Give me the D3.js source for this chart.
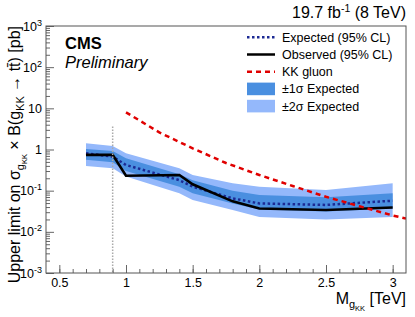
<!DOCTYPE html>
<html>
<head>
<meta charset="utf-8">
<script src="https://cdn.jsdelivr.net/npm/d3@7"></script>
<style>
  body { margin: 0; background: #fff; }
  svg { font-family: "Liberation Sans", Arial, sans-serif; }
</style>
</head>
<body>
<svg width="415" height="317"></svg>
<script>
// limits, pb
const mass = [0.7, 0.9, 1.0, 1.4, 1.5, 1.8, 2.0, 2.5, 3.0];
const observed = [0.74, 0.74, 0.23, 0.24, 0.143, 0.055, 0.037, 0.034, 0.039];
const expected = [0.81, 0.67, 0.42, 0.18, 0.125, 0.065, 0.049, 0.045, 0.057];
const sig1Lo = [0.56, 0.49, 0.30, 0.125, 0.086, 0.049, 0.035, 0.031, 0.037];
const sig1Hi = [1.03, 0.92, 0.61, 0.25, 0.18, 0.10, 0.079, 0.069, 0.086];
const sig2Lo = [0.40, 0.35, 0.22, 0.086, 0.059, 0.034, 0.023, 0.020, 0.023];
const sig2Hi = [1.42, 1.22, 0.81, 0.35, 0.24, 0.151, 0.125, 0.104, 0.151];

// KK gluon theory curve
const kkMass = [1.0, 1.25, 1.5, 1.75, 2.0, 2.25, 2.5, 2.75, 3.0, 3.1];
const kkXsec = [8.0, 2.6, 1.07, 0.47, 0.24, 0.13, 0.071, 0.042, 0.025, 0.021];

// dotted vertical marker
const markMass = 0.9;
const markTop = 3.6;

const xTicks = [0.5, 1, 1.5, 2, 2.5, 3];
const yDecades = [-3, -2, -1, 0, 1, 2, 3];

const legendItems = [
  { label: "Expected (95% CL)", kind: "exp" },
  { label: "Observed (95% CL)", kind: "obs" },
  { label: "KK gluon", kind: "kk" },
  { label: "±1σ Expected", kind: "s1" },
  { label: "±2σ Expected", kind: "s2" }
];

const svg = d3.select("svg");
const pLeft = 46, pRight = 406, pTop = 26, pBottom = 273;

const c2 = "#94b8fb", c1 = "#4a8fe0", cExp = "#1c2a94", cKK = "#e00000";

const x = d3.scaleLinear().domain([0.4, 3.1]).range([pLeft, pRight]);
const y = d3.scaleLog().domain([1e-3, 1e3]).range([pBottom, pTop]);

const plot = svg.append("g");
plot.append("clipPath").attr("id", "clip")
  .append("rect").attr("x", pLeft).attr("y", pTop)
  .attr("width", pRight - pLeft).attr("height", pBottom - pTop);
const g = plot.append("g").attr("clip-path", "url(#clip)");

const band = (lo, hi) => d3.area()
  .x((d, i) => x(mass[i]))
  .y0((d, i) => y(lo[i]))
  .y1((d, i) => y(hi[i]));

g.append("path").datum(mass).attr("d", band(sig2Lo, sig2Hi)).attr("fill", c2);
g.append("path").datum(mass).attr("d", band(sig1Lo, sig1Hi)).attr("fill", c1);

const line = vals => d3.line().x((d, i) => x(mass[i])).y((d, i) => y(vals[i]));

g.append("path").datum(mass).attr("d", line(expected))
  .attr("fill", "none").attr("stroke", cExp).attr("stroke-width", 2.5)
  .attr("stroke-dasharray", "2.5,2.5");
g.append("path").datum(mass).attr("d", line(observed))
  .attr("fill", "none").attr("stroke", "#000").attr("stroke-width", 2.6);

g.append("path").datum(kkMass)
  .attr("d", d3.line().x(d => x(d)).y((d, i) => y(kkXsec[i])))
  .attr("fill", "none").attr("stroke", cKK).attr("stroke-width", 2.5)
  .attr("stroke-dasharray", "5,4");

g.append("line")
  .attr("x1", x(markMass)).attr("x2", x(markMass))
  .attr("y1", y(markTop)).attr("y2", pBottom)
  .attr("stroke", "#aaa").attr("stroke-width", 1.5)
  .attr("stroke-dasharray", "1.5,1.5");

// axes
const xMajor = svg.append("g").attr("transform", `translate(0,${pBottom})`)
  .call(d3.axisBottom(x).tickValues(xTicks).tickSizeInner(-8).tickSizeOuter(0)
    .tickPadding(5).tickFormat(d3.format("")));
const xMinor = svg.append("g").attr("transform", `translate(0,${pBottom})`)
  .call(d3.axisBottom(x).tickValues(d3.range(5, 31).map(d => d / 10))
    .tickSizeInner(-4).tickSizeOuter(0).tickFormat(""));

const minorY = [];
for (let e = -3; e < 3; e++) for (let k = 2; k < 10; k++) minorY.push(k * Math.pow(10, e));
const yMajor = svg.append("g").attr("transform", `translate(${pLeft},0)`)
  .call(d3.axisLeft(y).tickValues(yDecades.map(e => Math.pow(10, e)))
    .tickSizeInner(-8).tickSizeOuter(0).tickFormat(""));
const yMinor = svg.append("g").attr("transform", `translate(${pLeft},0)`)
  .call(d3.axisLeft(y).tickValues(minorY).tickSizeInner(-4).tickSizeOuter(0).tickFormat(""));

[xMajor, xMinor, yMajor, yMinor].forEach(a => {
  a.select(".domain").remove();
  a.selectAll("line").attr("stroke", "#666");
});
xMajor.selectAll("text").attr("font-size", 12.5).attr("fill", "#000")
  .attr("font-family", "Liberation Sans, Arial, sans-serif");

yDecades.forEach(e => {
  const t = svg.append("text").attr("x", pLeft - 4).attr("y", y(Math.pow(10, e)) + 4.5)
    .attr("text-anchor", "end").attr("font-size", 12.5);
  if (e === 0) t.text("1");
  else if (e === 1) t.text("10");
  else {
    t.append("tspan").text("10");
    t.append("tspan").attr("dy", -5).attr("font-size", 9).text(e);
  }
});

svg.append("rect").attr("x", pLeft).attr("y", pTop)
  .attr("width", pRight - pLeft).attr("height", pBottom - pTop)
  .attr("fill", "none").attr("stroke", "#555").attr("stroke-width", 1);

// titles
const xt = svg.append("text").attr("x", pRight).attr("y", 304)
  .attr("text-anchor", "end").attr("font-size", 16);
xt.append("tspan").text("M");
xt.append("tspan").attr("dy", 4).attr("font-size", 11).text("g");
xt.append("tspan").attr("dy", 3).attr("font-size", 7.5).text("KK");
xt.append("tspan").attr("dy", -7).text(" [TeV]");

const yt = svg.append("text").attr("transform", `translate(20,${pTop}) rotate(-90)`)
  .attr("text-anchor", "end").attr("font-size", 16);
yt.append("tspan").text("Upper limit on σ");
yt.append("tspan").attr("dy", 4).attr("font-size", 11).text("g");
yt.append("tspan").attr("dy", 3).attr("font-size", 7.5).text("KK");
yt.append("tspan").attr("dy", -7).text(" × B(g");
yt.append("tspan").attr("dy", 4).attr("font-size", 11).text("KK");
yt.append("tspan").attr("dy", -4).text(" → tt\u0304) [pb]");

const lumi = svg.append("text").attr("x", pRight).attr("y", 18)
  .attr("text-anchor", "end").attr("font-size", 16);
lumi.append("tspan").text("19.7 fb");
lumi.append("tspan").attr("dy", -6).attr("font-size", 10.5).text("-1");
lumi.append("tspan").attr("dy", 6).text(" (8 TeV)");

svg.append("text").attr("x", 65).attr("y", 49)
  .attr("font-size", 16.5).attr("font-weight", "bold").text("CMS");
svg.append("text").attr("x", 65).attr("y", 67.5)
  .attr("font-size", 16.5).attr("font-style", "italic").text("Preliminary");

// legend
const leg = svg.append("g");
legendItems.forEach((d, i) => {
  const cy = 37.3 + i * 17.2;
  const row = leg.append("g");
  if (d.kind === "s1" || d.kind === "s2") {
    row.append("rect").attr("x", 247).attr("y", cy - 6.3).attr("width", 28).attr("height", 12.6)
      .attr("fill", d.kind === "s1" ? c1 : c2);
  } else {
    const l = row.append("line").attr("x1", 247).attr("x2", 275).attr("y1", cy).attr("y2", cy)
      .attr("stroke-width", 2.5);
    if (d.kind === "exp") l.attr("stroke", cExp).attr("stroke-dasharray", "2.5,2.5");
    if (d.kind === "obs") l.attr("stroke", "#000");
    if (d.kind === "kk") l.attr("stroke", cKK).attr("stroke-dasharray", "5,4");
  }
  row.append("text").attr("x", 282).attr("y", cy + 4.5).attr("font-size", 12.5).text(d.label);
});
</script>
</body>
</html>
